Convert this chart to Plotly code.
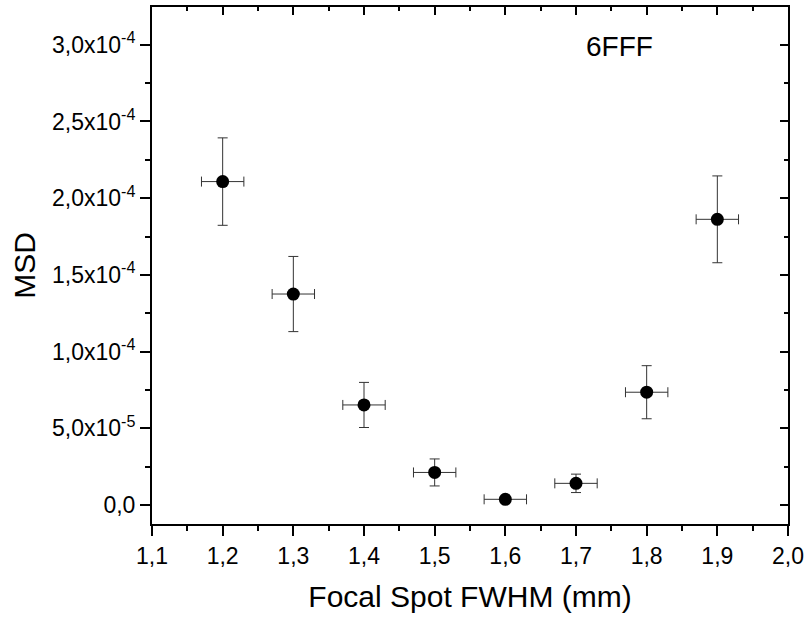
import plotly.graph_objects as go

fwhm = [1.2, 1.3, 1.4, 1.5, 1.6, 1.7, 1.8, 1.9]
msd = [2.108e-4, 1.375e-4, 0.652e-4, 0.212e-4, 0.037e-4, 0.141e-4, 0.735e-4, 1.862e-4]
msd_err = [0.285e-4, 0.245e-4, 0.147e-4, 0.088e-4, 0.015e-4, 0.060e-4, 0.173e-4, 0.283e-4]
fwhm_err = [0.03] * 8

ytick_vals = [0, 0.5e-4, 1.0e-4, 1.5e-4, 2.0e-4, 2.5e-4, 3.0e-4]
ytick_text = ["0,0", "5,0x10<sup>-5</sup>", "1,0x10<sup>-4</sup>", "1,5x10<sup>-4</sup>",
              "2,0x10<sup>-4</sup>", "2,5x10<sup>-4</sup>", "3,0x10<sup>-4</sup>"]
xtick_vals = [1.1, 1.2, 1.3, 1.4, 1.5, 1.6, 1.7, 1.8, 1.9, 2.0]
xtick_text = ["1,1", "1,2", "1,3", "1,4", "1,5", "1,6", "1,7", "1,8", "1,9", "2,0"]

XR = [1.1, 2.0]
YR = [-0.124e-4, 3.246e-4]
FONT = "Liberation Sans, Arial, sans-serif"

fig = go.Figure()
fig.add_trace(go.Scatter(
    x=fwhm, y=msd, mode="markers",
    marker=dict(color="black", size=13),
    error_y=dict(type="data", array=msd_err, color="#333333", thickness=1, width=5),
    error_x=dict(type="data", array=fwhm_err, color="#333333", thickness=1, width=5),
    showlegend=False,
))
# empty trace so the mirrored top/right axes get initialised
fig.add_trace(go.Scatter(x=[], y=[], xaxis="x2", yaxis="y2", showlegend=False, hoverinfo="skip"))

fig.update_layout(
    width=811, height=619,
    margin=dict(l=152, r=19, t=7, b=95),
    paper_bgcolor="white", plot_bgcolor="white",
    font=dict(family=FONT, color="black"),
    xaxis=dict(
        range=XR, tickvals=xtick_vals, ticktext=xtick_text,
        ticks="outside", ticklen=10, tickwidth=2, tickcolor="black",
        showline=True, linewidth=2, linecolor="black", showgrid=False, zeroline=False,
        tickfont=dict(size=23, family=FONT),
        minor=dict(dtick=0.05, tick0=1.1, ticks="outside", ticklen=5, tickwidth=2, tickcolor="black"),
        title=dict(text="Focal Spot FWHM (mm)", font=dict(size=30, family=FONT), standoff=18),
    ),
    yaxis=dict(
        range=YR, tickvals=ytick_vals, ticktext=ytick_text,
        ticks="outside", ticklen=10, tickwidth=2, tickcolor="black",
        showline=True, linewidth=2, linecolor="black", showgrid=False, zeroline=False,
        tickfont=dict(size=23, family=FONT),
        minor=dict(dtick=0.25e-4, tick0=0, ticks="outside", ticklen=5, tickwidth=2, tickcolor="black"),
        title=dict(text="MSD", font=dict(size=30, family=FONT), standoff=8),
    ),
    xaxis2=dict(
        range=XR, overlaying="x", side="top", anchor="y2",
        tickvals=xtick_vals, showticklabels=False,
        ticks="inside", ticklen=8, tickwidth=2, tickcolor="black",
        showline=True, linewidth=2, linecolor="black", showgrid=False, zeroline=False,
        minor=dict(dtick=0.05, tick0=1.1, ticks="inside", ticklen=4, tickwidth=2, tickcolor="black"),
    ),
    yaxis2=dict(
        range=YR, overlaying="y", side="right", anchor="x2",
        tickvals=ytick_vals, showticklabels=False,
        ticks="inside", ticklen=8, tickwidth=2, tickcolor="black",
        showline=True, linewidth=2, linecolor="black", showgrid=False, zeroline=False,
        minor=dict(dtick=0.25e-4, tick0=0, ticks="inside", ticklen=4, tickwidth=2, tickcolor="black"),
    ),
    annotations=[dict(text="6FFF", xref="paper", yref="paper",
                      x=(587 - 152) / (811 - 152 - 19), y=1 - (47 - 7) / (619 - 7 - 95),
                      xanchor="left", yanchor="middle", showarrow=False,
                      font=dict(size=28, family=FONT, color="black"))],
)

fig.write_html("out.html")
